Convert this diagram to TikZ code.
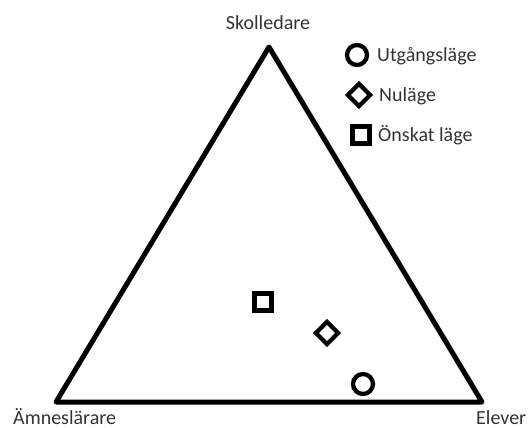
\documentclass[tikz,border=0pt]{standalone}
\usepackage{fontspec}
\setmainfont{Carlito}
\usetikzlibrary{shapes.geometric}
\tikzset{
  symb/.style={draw, line width=4.3pt, inner sep=0pt},
  startmark/.style={symb, circle, minimum size=20pt},
  nowmark/.style={symb, diamond, minimum size=24pt},
  goalmark/.style={symb, rectangle, minimum size=17pt},
  lbl/.style={font=\fontsize{20}{24}\selectfont, text=black!80, inner sep=0pt}
}
\begin{document}
\begin{tikzpicture}[x=1pt,y=-1pt]
  \useasboundingbox (0,0) rectangle (528,428);
  % corners of the triangle
  \coordinate (top) at (269,47);
  \coordinate (left) at (56,402);
  \coordinate (right) at (482,402);
  \draw[line width=5pt, line join=round] (top) -- (right) -- (left) -- cycle;
  \node[lbl, anchor=base] (skol) at (268,30) {Skolledare};
  \node[lbl, anchor=base west] (amne) at (13,424) {Ämneslärare};
  \node[lbl, anchor=base west] (elev) at (476,424) {Elever};
  % legend
  \node[startmark] (lstart) at (357,55) {};
  \node[nowmark] (lnow) at (359,95) {};
  \node[goalmark] (lgoal) at (361,135) {};
  \node[lbl, anchor=base west] (tstart) at (377,62) {Utgångsläge};
  \node[lbl, anchor=base west] (tnow) at (379,102) {Nuläge};
  \node[lbl, anchor=base west] (tgoal) at (378,142) {Önskat läge};
  % positions
  \node[goalmark] (goal) at (263,302) {};
  \node[nowmark] (now) at (327,333) {};
  \node[startmark] (start) at (363,384) {};
\end{tikzpicture}
\end{document}
